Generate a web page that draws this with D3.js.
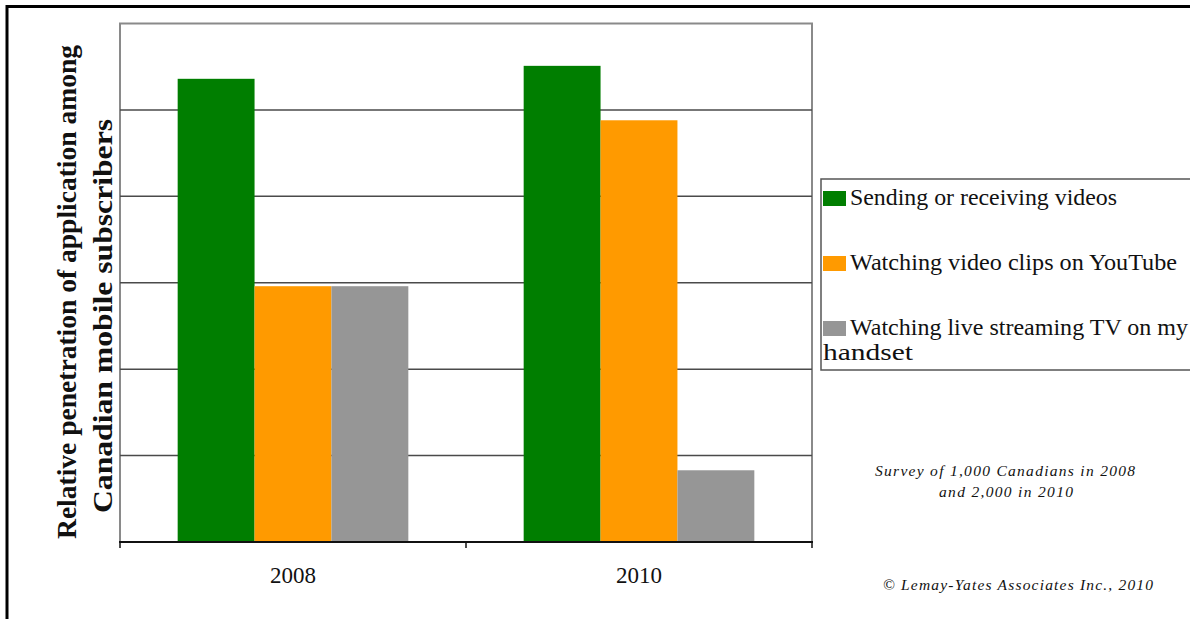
<!DOCTYPE html>
<head>
    <meta charset="utf-8" />
    <script src="https://d3js.org/d3.v7.min.js"></script>
    <style>
        body { margin: 0; background: #fff; }
        text { font-family: "Liberation Serif", "Times New Roman", serif; }
    </style>
</head>
<body>
<script>
    // data (no units on the y axis)
    var years = ["2008", "2010"];
    var series = ["Sending or receiving videos", "Watching video clips on YouTube", "Watching live streaming TV on my handset"];
    var colors = ["#007e00", "#ff9a00", "#969696"];
    var sending = [5.36, 5.51];
    var youtube = [2.96, 4.88];
    var liveTv = [2.96, 0.83];
    var yTicks = [0, 1, 2, 3, 4, 5, 6];

    var width = 1190, height = 619;
    var svg = d3.select("body").append("svg")
        .attr("width", width)
        .attr("height", height);

    // outer frame (right and bottom are cut off in the original)
    svg.append("rect")
        .attr("x", 7).attr("y", 6.5)
        .attr("width", 1300).attr("height", 800)
        .attr("fill", "#fff")
        .attr("stroke", "#000").attr("stroke-width", 3);

    var plot = { left: 120, right: 812, top: 23.5, bottom: 542 };

    var x0 = d3.scaleBand().domain(years).range([plot.left, plot.right]).padding(0);
    var x1 = d3.scaleBand().domain(series).range([0, x0.bandwidth()]).paddingInner(0).paddingOuter(0.75);
    var y = d3.scaleLinear().domain([0, 6]).range([plot.bottom, plot.top]);

    // plot area border
    svg.append("rect")
        .attr("x", plot.left).attr("y", y(6))
        .attr("width", plot.right - plot.left).attr("height", plot.bottom - y(6))
        .attr("fill", "none").attr("stroke", "#8a8a8a").attr("stroke-width", 2);

    // gridlines
    svg.append("g").selectAll("line")
        .data(yTicks.slice(1, 6))
        .join("line")
        .attr("x1", plot.left).attr("x2", plot.right)
        .attr("y1", d => y(d)).attr("y2", d => y(d))
        .attr("stroke", "#4a4a4a").attr("stroke-width", 1.5);

    var rows = years.map(function(yr, i) {
        return { year: yr, values: [sending[i], youtube[i], liveTv[i]] };
    });

    svg.append("g").selectAll("g")
        .data(rows)
        .join("g")
        .attr("transform", d => "translate(" + x0(d.year) + ",0)")
        .selectAll("rect")
        .data(d => d.values.map((v, k) => ({ s: series[k], v: v, c: colors[k] })))
        .join("rect")
        .attr("x", d => x1(d.s))
        .attr("width", x1.bandwidth())
        .attr("y", d => y(d.v))
        .attr("height", d => y(0) - y(d.v))
        .attr("fill", d => d.c);

    // x axis
    var xAxis = svg.append("g")
        .attr("transform", "translate(0," + plot.bottom + ")");
    xAxis.append("line")
        .attr("x1", plot.left - 1).attr("x2", plot.right + 1)
        .attr("stroke", "#111").attr("stroke-width", 2);
    xAxis.selectAll(".tk")
        .data([plot.left].concat(years.map(d => x0(d) + x0.bandwidth())))
        .join("line")
        .attr("x1", d => d).attr("x2", d => d)
        .attr("y1", 0).attr("y2", 6)
        .attr("stroke", "#111").attr("stroke-width", 1.5);
    xAxis.selectAll("text")
        .data(years)
        .join("text")
        .attr("x", d => x0(d) + x0.bandwidth() / 2)
        .attr("y", 41)
        .attr("text-anchor", "middle")
        .attr("font-size", 23)
        .attr("fill", "#111")
        .text(d => d);

    // y title
    var yTitle = [
        { t: "Relative penetration of application among", x: 76, c: 292, len: 494 },
        { t: "Canadian mobile subscribers", x: 112, c: 316, len: 394 }
    ];
    svg.selectAll(".ytitle")
        .data(yTitle)
        .join("text")
        .attr("transform", d => "translate(" + d.x + "," + d.c + ") rotate(-90)")
        .attr("text-anchor", "middle")
        .attr("font-size", 28)
        .attr("font-weight", "bold")
        .attr("textLength", d => d.len)
        .attr("lengthAdjust", "spacingAndGlyphs")
        .attr("fill", "#111")
        .text(d => d.t);

    // legend
    var legend = svg.append("g");
    legend.append("rect")
        .attr("x", 821).attr("y", 179)
        .attr("width", 420).attr("height", 191)
        .attr("fill", "#fff").attr("stroke", "#555").attr("stroke-width", 1.5);
    var legRows = [
        { lines: ["Sending or receiving videos"], xs: [850], lens: [267], base: 205 },
        { lines: ["Watching video clips on YouTube"], xs: [850], lens: [327], base: 270 },
        { lines: ["Watching live streaming TV on my", "handset"], xs: [850, 823], lens: [338, 90], base: 335 }
    ];
    legRows.forEach(function(r, i) {
        legend.append("rect")
            .attr("x", 823).attr("y", r.base - 14)
            .attr("width", 23).attr("height", 15)
            .attr("fill", colors[i]);
        r.lines.forEach(function(l, j) {
            legend.append("text")
                .attr("x", r.xs[j]).attr("y", r.base + j * 25)
                .attr("font-size", 22.5)
                .attr("textLength", r.lens[j])
                .attr("lengthAdjust", "spacingAndGlyphs")
                .attr("fill", "#111")
                .text(l);
        });
    });

    // notes
    var notes = [
        { t: "Survey of 1,000 Canadians in 2008", x: 1005, y: 476, len: 260 },
        { t: "and 2,000 in 2010", x: 1006, y: 497, len: 134 },
        { t: "\u00a9 Lemay-Yates Associates Inc., 2010", x: 1018, y: 590, len: 270 }
    ];
    svg.selectAll(".note")
        .data(notes)
        .join("text")
        .attr("x", d => d.x).attr("y", d => d.y)
        .attr("text-anchor", "middle")
        .attr("font-size", 15.5)
        .attr("font-style", "italic")
        .attr("textLength", d => d.len)
        .attr("lengthAdjust", "spacing")
        .attr("fill", "#111")
        .text(d => d.t);
</script>
</body>
